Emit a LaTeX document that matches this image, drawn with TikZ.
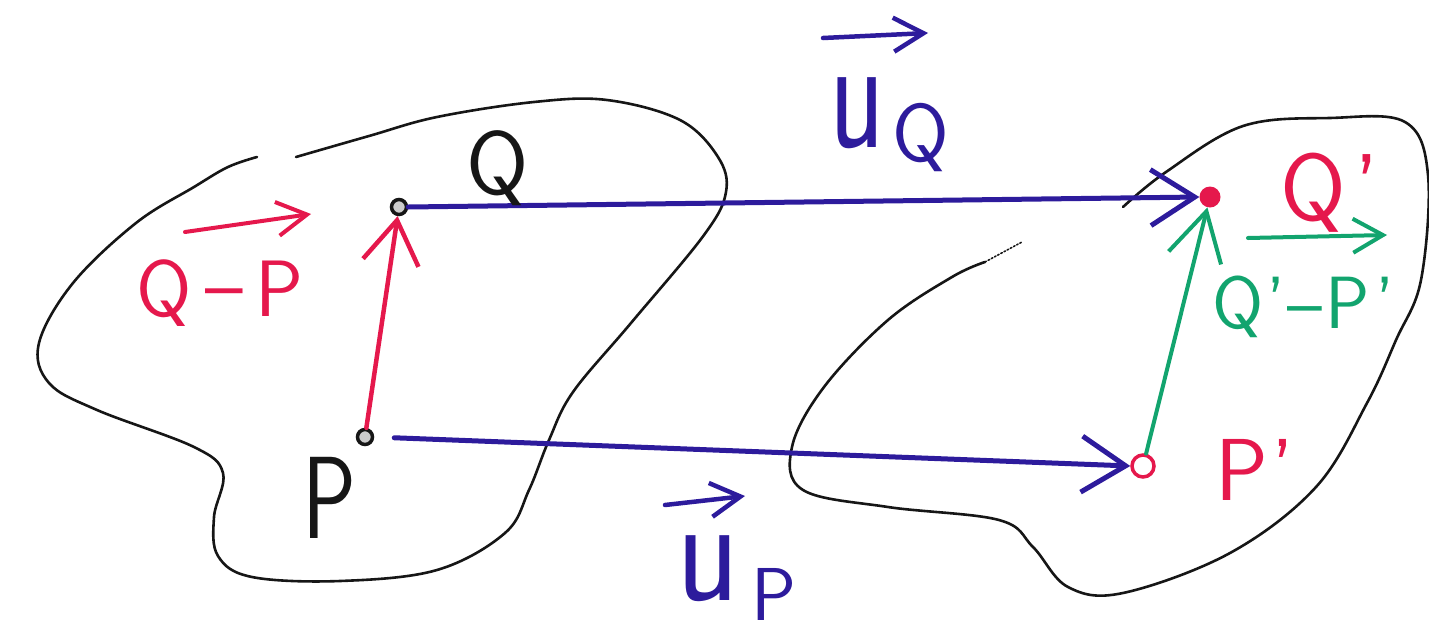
\documentclass[tikz,border=0pt]{standalone}
\usepackage{graphicx}
\usetikzlibrary{arrows.meta}
\definecolor{inkblue}{HTML}{2D1B9C}
\definecolor{inkred}{HTML}{E5184C}
\definecolor{inkgreen}{HTML}{12A46E}
\definecolor{inkblack}{HTML}{161616}
\begin{document}
\begin{tikzpicture}[x=1pt,y=-1pt,
  blob/.style={draw=inkblack, line width=2.6pt, line cap=round, line join=round},
  vblue/.style={draw=inkblue, line width=5pt, line cap=round, -{Straight Barb[length=44pt,width=56pt]}},
  vred/.style={draw=inkred, line width=4.5pt, line cap=round, -{Straight Barb[length=43pt,width=56pt]}},
  vgreen/.style={draw=inkgreen, line width=4pt, line cap=round, -{Straight Barb[length=48pt,width=54pt]}},
  lblue/.style={draw=inkblue, line width=4.5pt, line cap=round, -{Straight Barb[length=30pt,width=34pt]}},
  lred/.style={draw=inkred, line width=4pt, line cap=round, -{Straight Barb[length=30pt,width=34pt]}},
  lgreen/.style={draw=inkgreen, line width=4pt, line cap=round, -{Straight Barb[length=30pt,width=34pt]}},
  dotb/.style={circle, draw=inkblack, line width=3.5pt, fill=gray!40, minimum size=15pt, inner sep=0pt},
  dotr/.style={circle, fill=inkred, minimum size=21pt, inner sep=0pt},
  ringr/.style={circle, draw=inkred, line width=3.5pt, minimum size=22pt, inner sep=0pt},
  txt/.style={inner sep=0pt, anchor=base west, font=\sffamily}
]
\useasboundingbox (0,0) rectangle (1429,635);

% regions
\draw[blob] plot[smooth, tension=0.6] coordinates {(296,157) (369,136) (437,117) (534,102) (607,100) (680,120) (718,157) (726,192) (704,235) (631,323) (573,392) (549,440) (529,490) (505,533) (437,570) (340,581) (252,577) (218,556) (214,517) (223,473) (194,447) (97,410) (49,383) (39,343) (73,283) (136,223) (194,187) (228,167) (257,157)};
\draw[blob] plot[smooth, tension=0.6] coordinates {(1123,207) (1166,172) (1243,126) (1330,118) (1405,122) (1428,175) (1421,280) (1396,340) (1367,403) (1316,487) (1230,553) (1123,593) (1068,587) (1033,547) (999,520) (888,507) (803,490) (792,447) (824,387) (888,320) (952,277) (985,262)};
\draw[blob, line width=1.6pt, dotted] (985,262) -- (1022,242);

% points
\node[dotb] (Q) at (399,207) {};
\node[dotb] (P) at (365,437) {};
\node[dotr] (Qp) at (1210,197) {};
\node[ringr] (Pp) at (1143,466) {};

% connectors
\draw[vblue] (Q.east) -- (Qp.west);
\draw[vblue, shorten <=20pt] (P.east) -- (Pp.west);
\draw[vred] (P) -- (Q);
\draw[vgreen] (Pp) -- (Qp);

% labels
\node[txt, text=inkblack, font=\sffamily\fontsize{90}{90}\selectfont] (lQ) at (466,194) {Q};
\node[txt, text=inkblack] (lP) at (302,538) {\scalebox{1}[1.3]{\fontsize{90}{90}\selectfont P}};
\node[txt, text=inkred, font=\sffamily\fontsize{80}{80}\selectfont] (lQP) at (136,316) {Q\hspace{14pt}\raisebox{4pt}{–}\hspace{12pt}P};
\draw[lred] (185,232) -- (311,214);

\node[txt, text=inkblue] (luQ) at (829,147) {\scalebox{0.88}[1.25]{\fontsize{130}{130}\selectfont u}\hspace{8pt}\raisebox{-14pt}{\fontsize{82}{82}\selectfont Q}};
\draw[lblue] (823,38) -- (928,33);

\node[txt, text=inkblue] (luP) at (676,600) {\scalebox{1}[1.16]{\fontsize{130}{130}\selectfont u}\hspace{12pt}\raisebox{-20pt}{\fontsize{75}{75}\selectfont P}};
\draw[lblue] (665,505) -- (745,496);

\node[txt, text=inkred, font=\sffamily\fontsize{95}{95}\selectfont] (lQp) at (1280,220) {Q\hspace{8pt}'};
\node[txt, text=inkred, font=\sffamily\fontsize{88}{88}\selectfont] (lPp) at (1215,500) {P\hspace{4pt}'};
\node[txt, text=inkgreen, font=\sffamily\fontsize{74}{74}\selectfont] (lQPp) at (1212,328) {Q\hspace{3pt}'\hspace{2pt}–\hspace{3pt}P\hspace{6pt}'};
\draw[lgreen] (1248,238) -- (1387,235);
\end{tikzpicture}
\end{document}
